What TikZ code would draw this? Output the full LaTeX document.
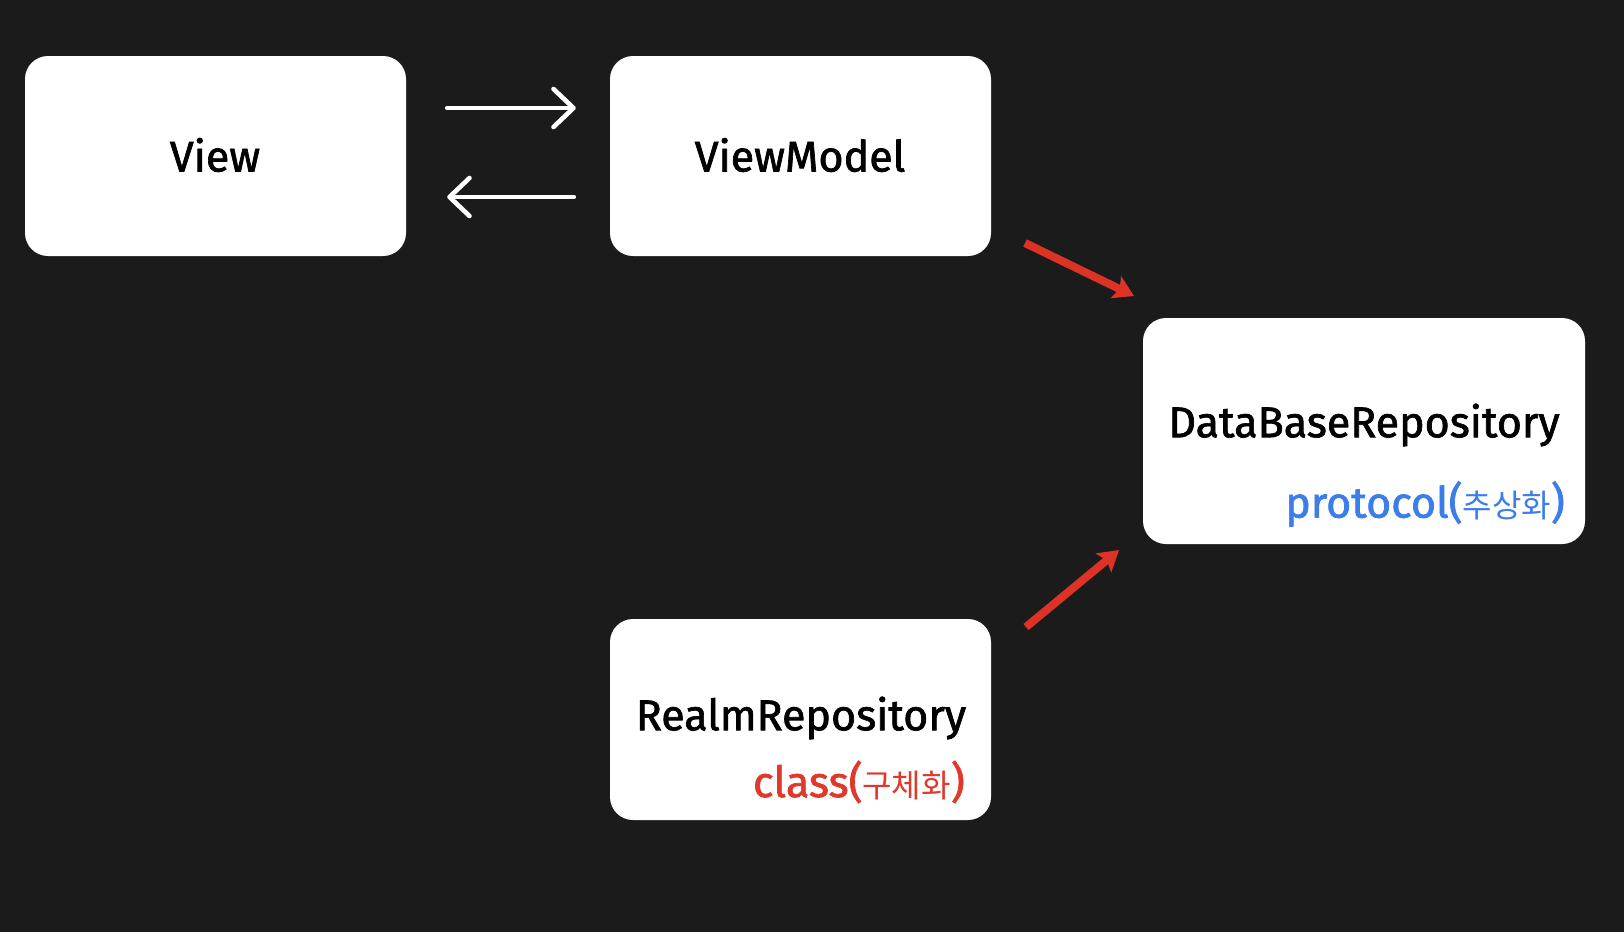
\documentclass[tikz,border=0pt]{standalone}
\usepackage{fontspec}
\setmainfont{Fira Sans}[FakeBold=1.6,UprightFeatures={FakeBold=1.6}]
\newfontfamily\krfont{Noto Sans CJK KR}
\usetikzlibrary{arrows.meta,calc}
\definecolor{bgc}{HTML}{1C1B1C}
\definecolor{redc}{HTML}{DD3327}
\definecolor{bluec}{HTML}{3B7DEB}
\definecolor{redt}{HTML}{E0392B}
\begin{document}
\begin{tikzpicture}[x=1pt,y=-1pt,
  box/.style={fill=white,rounded corners=23pt,inner sep=0pt,draw=none},
  lbl/.style={font=\fontsize{43}{50}\selectfont,text=black,inner sep=0pt},
  sub/.style={font=\fontsize{43}{50}\selectfont,inner sep=0pt,anchor=east},
  wa/.style={white,line width=4.6pt,line cap=round,-{Straight Barb[length=20pt,width=38pt,line cap=round,line join=round]}},
  ra/.style={redc,line width=8pt,-{Stealth[length=20pt,width=24pt,inset=4pt]}}]
\fill[bgc] (0,0) rectangle (1624,932);
\useasboundingbox (0,0) rectangle (1624,932);
\node[box,minimum width=381pt,minimum height=200pt] (view) at (215.5,156) {};
\node[box,minimum width=381pt,minimum height=200pt] (vm) at (800.5,156) {};
\node[box,minimum width=442pt,minimum height=226pt] (db) at (1364,431) {};
\node[box,minimum width=381pt,minimum height=201pt] (realm) at (800.5,719.5) {};
\node[lbl] (tview) at (215,155) {View};
\node[lbl] (tvm) at (800,155) {ViewModel};
\node[lbl] (tdb) at (1364,425) {DataBaseRepository};
\node[sub,text=bluec] (tproto) at (1565,504) {protocol({\krfont\fontsize{32}{40}\selectfont 추상화})};
\node[lbl] (trealm) at (801,718) {RealmRepository};
\node[sub,text=redt] (tclass) at (965,782) {class({\krfont\fontsize{32}{40}\selectfont 구체화})};
\draw[wa,shorten <=41pt,shorten >=34pt] ([yshift=48pt]view.east) -- ([yshift=48pt]vm.west);
\draw[wa,shorten <=36pt,shorten >=41pt] ([yshift=-41pt]vm.west) -- ([yshift=-41pt]view.east);
\coordinate (a1s) at (1025,243);
\coordinate (a1e) at (1134,296);
\coordinate (a2s) at (1026,627);
\coordinate (a2e) at (1119,550);
\draw[ra] (a1s) -- (a1e);
\draw[ra] (a2s) -- (a2e);
\end{tikzpicture}
\end{document}
